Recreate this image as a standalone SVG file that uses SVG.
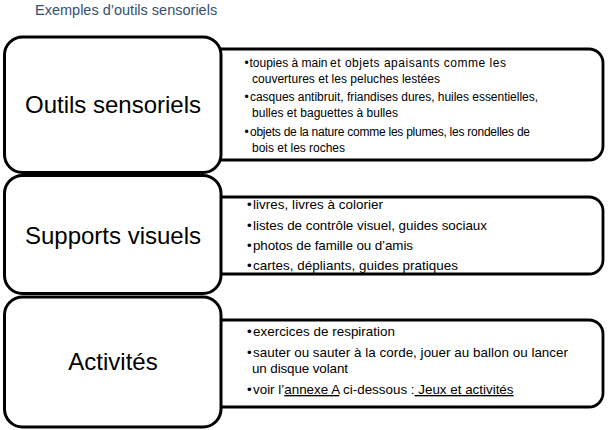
<svg xmlns="http://www.w3.org/2000/svg" width="610" height="430" viewBox="0 0 610 430">
<style>
.bg{fill:#fff}
.lbox{fill:#fff;stroke:#000;stroke-width:3}
.rbox{fill:#fff;stroke:#000;stroke-width:2.8}
.title{font-family:"Liberation Sans",Arial,sans-serif;font-size:14.5px;fill:#34506F}
.big{font-family:"Liberation Sans",Arial,sans-serif;font-size:24px;fill:#000;text-anchor:middle}
.s1{font-family:"Liberation Sans",Arial,sans-serif;font-size:12px;fill:#000}
.s2{font-family:"Liberation Sans",Arial,sans-serif;font-size:13.4px;fill:#000}
.u{text-decoration:underline}
</style>
<rect class="bg" x="0" y="0" width="610" height="430"/>
<text class="title" x="35" y="15">Exemples d’outils sensoriels</text>
<g id="connectors"/>
<g id="details-outils">
<rect class="rbox" x="190" y="49" width="413" height="111" rx="14"/>
<text class="s1" x="244.5" y="66.5">•</text>
<text class="s1" x="249.5" y="66.5" font-size="13.2">toupies à main</text>
<text class="s1" x="330" y="66.5" textLength="176">et objets apaisants comme les</text>
<text class="s1" x="252" y="82.5" textLength="188">couvertures et les peluches lestées</text>
<text class="s1" x="244.5" y="101">•</text>
<text class="s1" x="250" y="101" textLength="288">casques antibruit, friandises dures, huiles essentielles,</text>
<text class="s1" x="252" y="117" textLength="146">bulles et baguettes à bulles</text>
<text class="s1" x="244.5" y="135.5">•</text>
<text class="s1" x="250" y="135.5" textLength="280">objets de la nature comme les plumes, les rondelles de</text>
<text class="s1" x="252" y="152" textLength="93">bois et les roches</text>
</g>
<g id="details-supports">
<rect class="rbox" x="190" y="197" width="413" height="77" rx="14"/>
<text class="s2" x="247" y="209">•</text>
<text class="s2" x="253" y="209" textLength="130">livres, livres à colorier</text>
<text class="s2" x="247" y="229.5">•</text>
<text class="s2" x="253" y="229.5" textLength="234">listes de contrôle visuel, guides sociaux</text>
<text class="s2" x="247" y="249.5">•</text>
<text class="s2" x="253" y="249.5" textLength="160">photos de famille ou d’amis</text>
<text class="s2" x="247" y="270">•</text>
<text class="s2" x="253" y="270" textLength="205">cartes, dépliants, guides pratiques</text>
</g>
<g id="details-activites">
<rect class="rbox" x="190" y="320" width="413" height="87" rx="14"/>
<text class="s2" x="247" y="336">•</text>
<text class="s2" x="253" y="336" textLength="142">exercices de respiration</text>
<text class="s2" x="247" y="357">•</text>
<text class="s2" x="253" y="357" textLength="315">sauter ou sauter à la corde, jouer au ballon ou lancer</text>
<text class="s2" x="252" y="373" textLength="96">un disque volant</text>
<text class="s2" x="247" y="394">•</text>
<text class="s2" x="253" y="394">voir l’<tspan class="u">annexe A</tspan> ci-dessous :<tspan class="u"> Jeux et activités</tspan></text>
</g>
<g id="node-outils">
<rect class="lbox" x="4.5" y="37" width="216.5" height="135.5" rx="18"/>
<text class="big" x="113" y="113">Outils sensoriels</text>
</g>
<g id="node-supports">
<rect class="lbox" x="4.5" y="175.5" width="216.5" height="118" rx="18"/>
<text class="big" x="113" y="244">Supports visuels</text>
</g>
<g id="node-activites">
<rect class="lbox" x="4.5" y="297" width="216.5" height="130" rx="18"/>
<text class="big" x="113" y="370">Activités</text>
</g>
</svg>
